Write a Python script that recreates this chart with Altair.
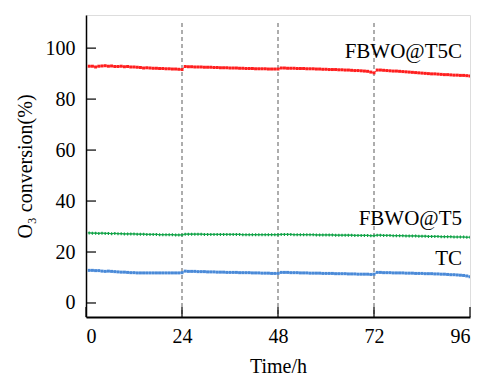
import altair as alt
import pandas as pd

# Sampling times (h)
hours = [
    0.8, 1.6, 2.4, 3.2, 4, 4.8, 5.6, 6.4, 7.2, 8, 8.8, 9.6, 10.4, 11.2, 12,
    12.8, 13.6, 14.4, 15.2, 16, 16.8, 17.6, 18.4, 19.2, 20, 20.8, 21.6, 22.4, 23.2, 24,
    24.8, 25.6, 26.4, 27.2, 28, 28.8, 29.6, 30.4, 31.2, 32, 32.8, 33.6, 34.4, 35.2, 36,
    36.8, 37.6, 38.4, 39.2, 40, 40.8, 41.6, 42.4, 43.2, 44, 44.8, 45.6, 46.4, 47.2, 48,
    48.8, 49.6, 50.4, 51.2, 52, 52.8, 53.6, 54.4, 55.2, 56, 56.8, 57.6, 58.4, 59.2, 60,
    60.8, 61.6, 62.4, 63.2, 64, 64.8, 65.6, 66.4, 67.2, 68, 68.8, 69.6, 70.4, 71.2, 72,
    72.8, 73.6, 74.4, 75.2, 76, 76.8, 77.6, 78.4, 79.2, 80, 80.8, 81.6, 82.4, 83.2, 84,
    84.8, 85.6, 86.4, 87.2, 88, 88.8, 89.6, 90.4, 91.2, 92, 92.8, 93.6, 94.4, 95.2, 96,
]

# O3 conversion (%)
fbwo_t5c = [
    92.9, 92.9, 92.6, 92.9, 93.0, 93.1, 92.9, 93.0, 92.8, 92.8, 92.9, 92.7, 92.8, 92.6, 92.6,
    92.5, 92.4, 92.2, 92.3, 92.2, 92.1, 92.1, 92.0, 92.0, 91.9, 91.9, 91.8, 91.8, 91.7, 91.6,
    92.8, 92.7, 92.7, 92.6, 92.6, 92.6, 92.5, 92.5, 92.5, 92.4, 92.4, 92.3, 92.3, 92.3, 92.2,
    92.2, 92.2, 92.1, 92.1, 92.0, 92.0, 92.0, 91.9, 91.9, 91.9, 91.9, 91.8, 91.8, 91.8, 91.8,
    92.2, 92.2, 92.1, 92.1, 92.1, 92.0, 92.0, 92.0, 91.9, 91.9, 91.9, 91.8, 91.8, 91.7, 91.7,
    91.6, 91.6, 91.6, 91.5, 91.5, 91.4, 91.4, 91.3, 91.2, 91.2, 91.1, 91.0, 90.9, 90.6, 90.3,
    91.4, 91.4, 91.3, 91.2, 91.1, 91.0, 91.0, 90.9, 90.8, 90.7, 90.6, 90.5, 90.4, 90.3, 90.2,
    90.1, 90.0, 89.9, 89.9, 89.8, 89.7, 89.6, 89.6, 89.5, 89.4, 89.4, 89.3, 89.3, 89.2, 89.1,
]
fbwo_t5 = [
    27.5, 27.4, 27.4, 27.3, 27.4, 27.3, 27.3, 27.2, 27.3, 27.2, 27.2, 27.1, 27.1, 27.1, 27.1,
    27.0, 27.0, 27.0, 26.9, 26.9, 26.9, 26.9, 26.8, 26.8, 26.8, 26.8, 26.8, 26.7, 26.7, 26.7,
    27.0, 27.0, 27.0, 27.0, 27.0, 27.0, 26.9, 26.9, 26.9, 26.9, 26.9, 26.9, 26.9, 26.9, 26.9,
    26.9, 26.9, 26.9, 26.8, 26.8, 26.8, 26.8, 26.8, 26.8, 26.8, 26.8, 26.8, 26.8, 26.8, 26.8,
    26.9, 26.9, 26.9, 26.9, 26.8, 26.8, 26.8, 26.8, 26.8, 26.8, 26.8, 26.7, 26.7, 26.7, 26.7,
    26.7, 26.7, 26.6, 26.6, 26.6, 26.6, 26.6, 26.6, 26.5, 26.5, 26.5, 26.5, 26.5, 26.4, 26.4,
    26.6, 26.6, 26.5, 26.5, 26.5, 26.4, 26.4, 26.4, 26.4, 26.3, 26.3, 26.3, 26.3, 26.2, 26.2,
    26.2, 26.1, 26.1, 26.1, 26.1, 26.0, 26.0, 26.0, 26.0, 25.9, 25.9, 25.9, 25.9, 25.8, 25.8,
]
tc = [
    12.8, 12.8, 12.7, 12.7, 12.5, 12.4, 12.5, 12.4, 12.3, 12.2, 12.1, 12.1, 12.0, 11.9, 11.9,
    11.8, 11.8, 11.8, 11.8, 11.8, 11.8, 11.8, 11.8, 11.8, 11.8, 11.8, 11.8, 11.8, 11.8, 11.9,
    12.5, 12.4, 12.4, 12.4, 12.3, 12.3, 12.3, 12.2, 12.2, 12.2, 12.1, 12.1, 12.1, 12.0, 12.0,
    12.0, 12.0, 11.9, 11.9, 11.9, 11.9, 11.8, 11.8, 11.8, 11.7, 11.7, 11.7, 11.6, 11.6, 11.6,
    12.0, 12.0, 12.0, 11.9, 11.9, 11.9, 11.8, 11.8, 11.8, 11.7, 11.7, 11.7, 11.7, 11.6, 11.6,
    11.6, 11.6, 11.5, 11.5, 11.5, 11.5, 11.4, 11.4, 11.4, 11.3, 11.3, 11.3, 11.3, 11.2, 11.3,
    12.0, 12.0, 11.9, 11.9, 11.9, 11.8, 11.8, 11.8, 11.8, 11.7, 11.7, 11.7, 11.6, 11.6, 11.6,
    11.5, 11.5, 11.5, 11.4, 11.4, 11.3, 11.3, 11.2, 11.1, 11.1, 11.0, 10.9, 10.8, 10.6, 10.3,
]

series_names = ["FBWO@T5C", "FBWO@T5", "TC"]
series_colors = ["#ff1f1f", "#12a348", "#4a8ad8"]
series_shapes = ["square", "cross", "square"]

# Series labels placed next to the curves
label_x = [94, 94, 94]
label_y = [98.3, 33.0, 17.3]

x_ticks = [0, 24, 48, 72, 96]
y_ticks = [0, 20, 40, 60, 80, 100]
marker_hours = [24, 48, 72]

FONT = "Times New Roman, Liberation Serif, serif"
W, H = 384, 302
X_DOMAIN = [0, 96]
Y_DOMAIN = [-5.5, 113]

rows = []
for name, vals in zip(series_names, [fbwo_t5c, fbwo_t5, tc]):
    for t, v in zip(hours, vals):
        rows.append({"Time": t, "Conversion": v, "Sample": name})
df = pd.DataFrame(rows)

xs = alt.Scale(domain=X_DOMAIN, nice=False, zero=False)
ys = alt.Scale(domain=Y_DOMAIN, nice=False, zero=False)
color = alt.Color("Sample:N", scale=alt.Scale(domain=series_names, range=series_colors), legend=None)
shape = alt.Shape("Sample:N", scale=alt.Scale(domain=series_names, range=series_shapes), legend=None)

x_axis = alt.Axis(values=x_ticks, ticks=False, grid=False, labelFont=FONT, labelFontSize=20,
                  labelColor="black", labelPadding=9, title="Time/h", titleFont=FONT,
                  titleFontSize=20, titleFontWeight="normal", titleColor="black", titlePadding=10,
                  domainColor="black", domainWidth=2)
y_axis = alt.Axis(values=y_ticks, ticks=False, grid=False, labelFont=FONT, labelFontSize=20,
                  labelColor="black", labelPadding=11, title="O\u2083 conversion(%)", titleFont=FONT,
                  titleFontSize=20, titleFontWeight="normal", titleColor="black", titlePadding=10,
                  domainColor="black", domainWidth=1.5)

base = alt.Chart(df)

lines = base.mark_line(strokeWidth=0.8, clip=True).encode(
    x=alt.X("Time:Q", scale=xs, axis=x_axis),
    y=alt.Y("Conversion:Q", scale=ys, axis=y_axis),
    color=color,
    detail="Sample:N",
)
points = base.mark_point(filled=True, size=9, opacity=1, clip=True).encode(
    x=alt.X("Time:Q", scale=xs),
    y=alt.Y("Conversion:Q", scale=ys),
    color=color,
    shape=shape,
)

# dashed markers at the 24 h intervals
vlines = alt.Chart(pd.DataFrame({"t": marker_hours})).mark_rule(
    color="#777777", strokeWidth=1.2, strokeDash=[4, 3]
).encode(x=alt.X("t:Q", scale=xs), y=alt.value(8), y2=alt.value(H))

# inward tick marks
yticks = alt.Chart(pd.DataFrame({"v": y_ticks})).mark_rule(color="black", strokeWidth=1.2).encode(
    y=alt.Y("v:Q", scale=ys), x=alt.value(0), x2=alt.value(10)
)
xticks = alt.Chart(pd.DataFrame({"v": x_ticks})).mark_rule(color="black", strokeWidth=1.2).encode(
    x=alt.X("v:Q", scale=xs), y=alt.value(H - 10), y2=alt.value(H)
)

labels = alt.Chart(pd.DataFrame({"name": series_names, "x": label_x, "y": label_y})).mark_text(
    align="right", baseline="middle", font=FONT, fontSize=21, color="black"
).encode(x=alt.X("x:Q", scale=xs), y=alt.Y("y:Q", scale=ys), text="name:N")

chart = alt.layer(vlines, lines, points, yticks, xticks, labels).properties(
    width=W, height=H,
    autosize=alt.AutoSizeParams(type="none"),
    padding={"left": 86, "top": 15, "right": 10, "bottom": 59},
).configure_view(stroke="#222222", strokeWidth=1.2).configure(background="white")

chart.save("out.html", embed_options={"renderer": "svg", "actions": False})
